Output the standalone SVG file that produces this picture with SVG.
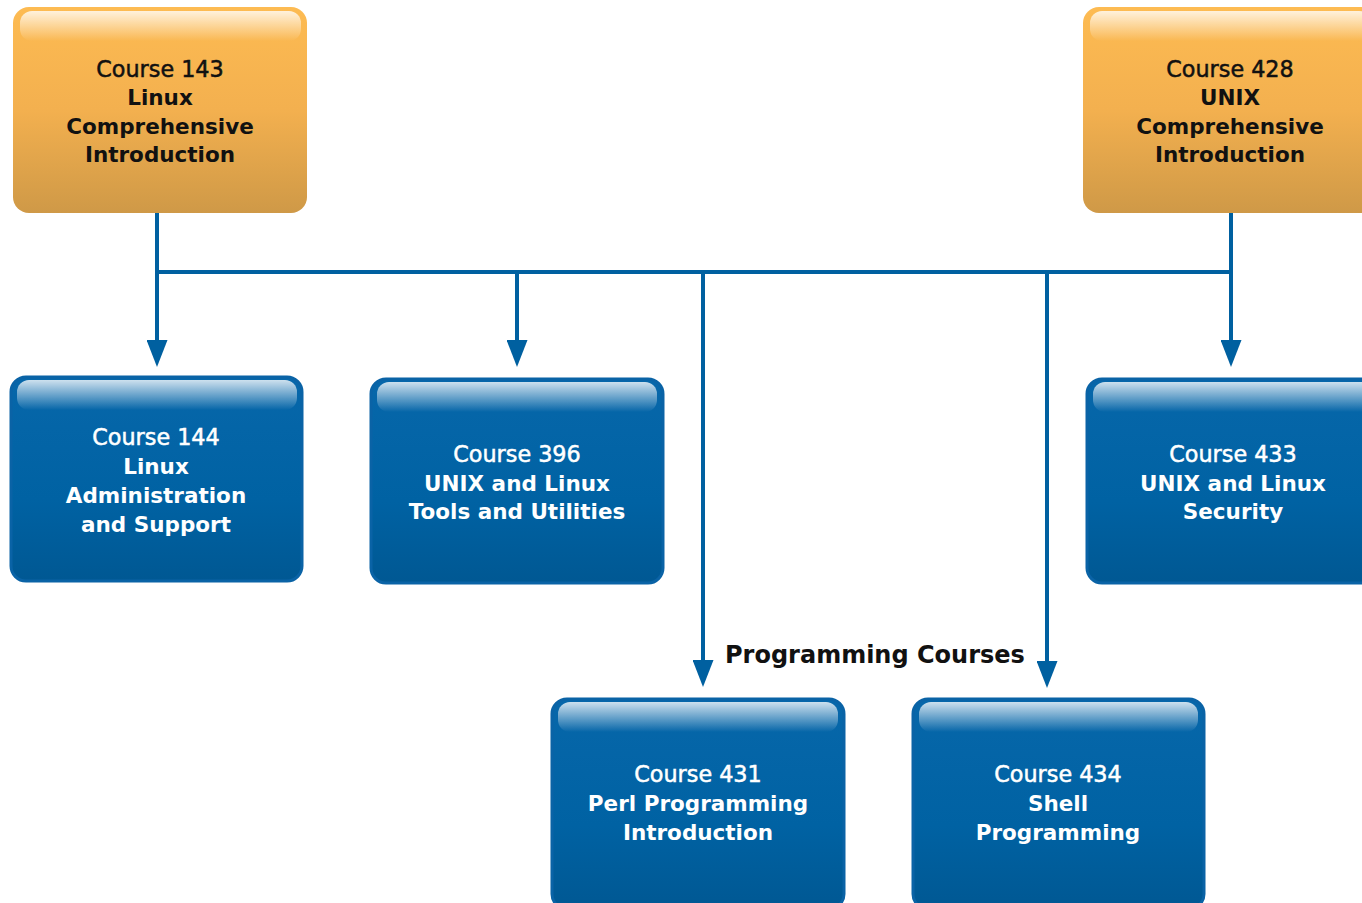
<svg xmlns="http://www.w3.org/2000/svg" width="1362" height="903" viewBox="0 0 1362 903">
<defs>
<linearGradient id="gOr" x1="0" y1="0" x2="0" y2="1">
<stop offset="0" stop-color="#FDBB52"/>
<stop offset="0.5" stop-color="#F3B04F"/>
<stop offset="1" stop-color="#CF9947"/>
</linearGradient>
<linearGradient id="gBl" x1="0" y1="0" x2="0" y2="1">
<stop offset="0" stop-color="#0767AA"/>
<stop offset="0.6" stop-color="#0062A3"/>
<stop offset="1" stop-color="#005893"/>
</linearGradient>
<linearGradient id="gGloss" x1="0" y1="0" x2="0" y2="1">
<stop offset="0" stop-color="#FFFFFF" stop-opacity="0.8"/>
<stop offset="1" stop-color="#FFFFFF" stop-opacity="0"/>
</linearGradient>
<marker id="arr" markerWidth="27" markerHeight="21" refX="17" refY="10.5" orient="auto" markerUnits="userSpaceOnUse" viewBox="0 0 27 21">
<path d="M0,0 L27,10.5 L0,21 Z" fill="#0060A0"/>
</marker>
</defs>
<style>
.or{fill:url(#gOr);}
.bl{fill:url(#gBl);stroke:#0A63A6;stroke-width:3;}
.gl{fill:url(#gGloss);}
.t{font-family:"DejaVu Sans",sans-serif;font-size:21.5px;text-anchor:middle;}
.r{font-size:22.3px;stroke-width:0.5px;}
.k{fill:#111;stroke:#111;stroke-width:0;}
.w{fill:#fff;stroke:#fff;stroke-width:0;}
.k.r,.w.r{stroke-width:0.5px;}
.b{font-weight:bold;}
.c{fill:none;stroke:#0060A0;stroke-width:4;}
</style>
<rect width="1362" height="903" fill="#fff"/>
<g id="connectors">
<path class="c" d="M157,213 V272 M1231,213 V272 M155,272 H1233"/>
<line class="c" x1="157" y1="272" x2="157" y2="357" marker-end="url(#arr)"/>
<line class="c" x1="517" y1="272" x2="517" y2="357" marker-end="url(#arr)"/>
<line class="c" x1="703" y1="272" x2="703" y2="677" marker-end="url(#arr)"/>
<line class="c" x1="1047" y1="272" x2="1047" y2="678" marker-end="url(#arr)"/>
<line class="c" x1="1231" y1="272" x2="1231" y2="357" marker-end="url(#arr)"/>
</g>
<text x="725" y="663" font-family="DejaVu Sans,sans-serif" font-size="24" font-weight="bold" fill="#111">Programming Courses</text>
<g id="c143">
<rect class="or" x="13" y="7" width="294" height="206" rx="16"/>
<rect class="gl" x="20" y="11" width="281" height="30" rx="12"/>
<text class="t k r" x="160" y="77">Course 143</text>
<text class="t k b" x="160" y="105">Linux</text>
<text class="t k b" x="160" y="134">Comprehensive</text>
<text class="t k b" x="160" y="162">Introduction</text>
</g>
<g id="c428">
<rect class="or" x="1083" y="7" width="294" height="206" rx="16"/>
<rect class="gl" x="1090" y="11" width="281" height="30" rx="12"/>
<text class="t k r" x="1230" y="77">Course 428</text>
<text class="t k b" x="1230" y="105">UNIX</text>
<text class="t k b" x="1230" y="134">Comprehensive</text>
<text class="t k b" x="1230" y="162">Introduction</text>
</g>
<g id="c144">
<rect class="bl" x="11" y="377" width="291" height="204" rx="15"/>
<rect class="gl" x="17" y="380" width="280" height="30" rx="12"/>
<text class="t w r" x="156" y="445">Course 144</text>
<text class="t w b" x="156" y="474">Linux</text>
<text class="t w b" x="156" y="503">Administration</text>
<text class="t w b" x="156" y="532">and Support</text>
</g>
<g id="c396">
<rect class="bl" x="371" y="379" width="292" height="204" rx="15"/>
<rect class="gl" x="377" y="382" width="280" height="30" rx="12"/>
<text class="t w r" x="517" y="462">Course 396</text>
<text class="t w b" x="517" y="491">UNIX and Linux</text>
<text class="t w b" x="517" y="519">Tools and Utilities</text>
</g>
<g id="c433">
<rect class="bl" x="1087" y="379" width="292" height="204" rx="15"/>
<rect class="gl" x="1093" y="382" width="280" height="30" rx="12"/>
<text class="t w r" x="1233" y="462">Course 433</text>
<text class="t w b" x="1233" y="491">UNIX and Linux</text>
<text class="t w b" x="1233" y="519">Security</text>
</g>
<g id="c431">
<rect class="bl" x="552" y="699" width="292" height="210" rx="15"/>
<rect class="gl" x="558" y="702" width="280" height="30" rx="12"/>
<text class="t w r" x="698" y="782">Course 431</text>
<text class="t w b" x="698" y="811">Perl Programming</text>
<text class="t w b" x="698" y="840">Introduction</text>
</g>
<g id="c434">
<rect class="bl" x="913" y="699" width="291" height="210" rx="15"/>
<rect class="gl" x="919" y="702" width="279" height="30" rx="12"/>
<text class="t w r" x="1058" y="782">Course 434</text>
<text class="t w b" x="1058" y="811">Shell</text>
<text class="t w b" x="1058" y="840">Programming</text>
</g>
</svg>
